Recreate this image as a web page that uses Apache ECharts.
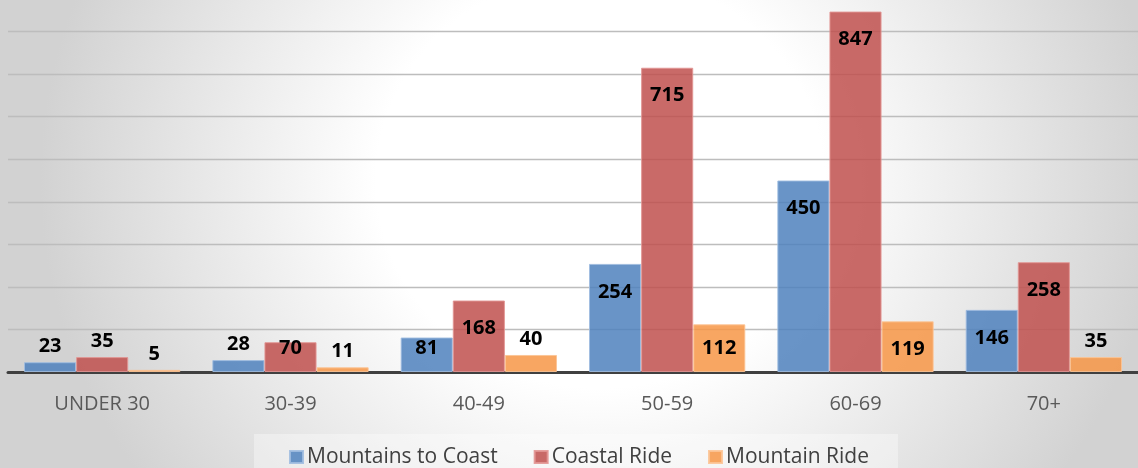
<!DOCTYPE html>
<html>
<head>
<meta charset="utf-8">
<script src="https://cdn.jsdelivr.net/npm/echarts@6/dist/echarts.min.js"></script>
<style>
html,body{margin:0;padding:0;overflow:hidden;}
#wrap{position:relative;width:1138px;height:468px;overflow:hidden;
background:radial-gradient(ellipse 560px 520px at 600px 180px,#ffffff 0%,#ffffff 40%,#d2d2d2 100%);}
#chart{position:absolute;left:0;top:-11px;width:1138px;height:479px;}
</style>
</head>
<body>
<div id="wrap"><div id="chart"></div></div>
<script>
const categories = ['UNDER 30', '30-39', '40-49', '50-59', '60-69', '70+'];
const mountainsToCoast = [23, 28, 81, 254, 450, 146];
const coastalRide = [35, 70, 168, 715, 847, 258];
const mountainRide = [5, 11, 40, 112, 119, 35];
const seriesNames = ['Mountains to Coast', 'Coastal Ride', 'Mountain Ride'];

const fills = ['rgba(79,129,189,0.85)', 'rgba(192,80,77,0.85)', 'rgba(247,150,70,0.85)'];
const borders = ['rgba(160,188,224,0.9)', 'rgba(226,150,148,0.9)', 'rgba(252,196,150,0.9)'];

function labelFor(v) {
  if (v < 60) return { position: 'top', distance: 6 };
  if (v < 118) return { position: 'insideBottom', distance: 14 };
  return { position: 'insideTop', distance: 18 };
}

function makeSeries(name, values, i) {
  return {
    name: name,
    type: 'bar',
    barGap: '0%',
    barCategoryGap: '17%',
    itemStyle: { color: fills[i], borderColor: borders[i], borderWidth: 1 },
    label: {
      show: true,
      color: '#000',
      fontFamily: 'Open Sans',
      fontWeight: 'bold',
      fontSize: 20,
      lineHeight: 20
    },
    data: values.map(v => ({ value: v, label: labelFor(v) }))
  };
}

const chart = echarts.init(document.getElementById('chart'), null, { renderer: 'canvas' });
chart.setOption({
  backgroundColor: 'transparent',
  animation: false,
  grid: { left: 8, right: -2, top: 0, bottom: 96, containLabel: false },
  legend: {
    left: 254,
    top: 445,
    padding: [10, 29, 10, 35],
    backgroundColor: 'rgba(255,255,255,0.35)',
    itemWidth: 13,
    itemHeight: 12,
    itemGap: 36,
    icon: 'rect',
    textStyle: { fontFamily: 'Open Sans', fontSize: 21, lineHeight: 26, color: '#404040', padding: [0, 0, 0, -1] },
    data: seriesNames
  },
  xAxis: {
    type: 'category',
    data: categories,
    axisLine: { show: true, lineStyle: { color: '#404040', width: 3 } },
    axisTick: { show: false },
    axisLabel: { fontFamily: 'Open Sans', fontSize: 20, lineHeight: 24, color: '#595959', margin: 20 }
  },
  yAxis: {
    type: 'value',
    min: 0,
    max: 900,
    interval: 100,
    axisLine: { show: false },
    axisTick: { show: false },
    axisLabel: { show: false },
    splitLine: { lineStyle: { color: '#bdbdbd', width: 1.3 } }
  },
  series: [
    makeSeries(seriesNames[0], mountainsToCoast, 0),
    makeSeries(seriesNames[1], coastalRide, 1),
    makeSeries(seriesNames[2], mountainRide, 2)
  ]
});
</script>
</body>
</html>
